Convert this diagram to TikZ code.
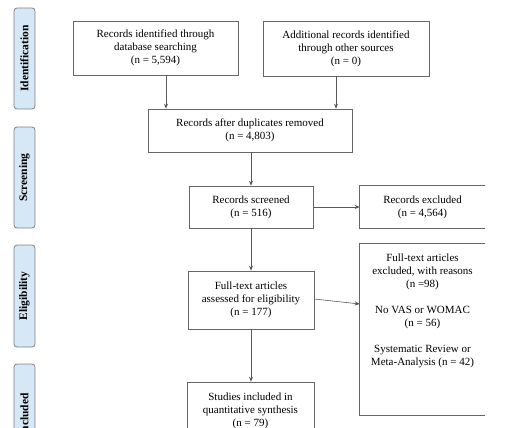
\documentclass[tikz,border=0pt]{standalone}
\usepackage{fontspec}
\setmainfont{Liberation Serif}
\usetikzlibrary{arrows.meta}
\definecolor{tabfill}{RGB}{214,231,245}
\definecolor{tabline}{RGB}{125,130,135}
\begin{document}
\begin{tikzpicture}[x=1pt,y=-1pt,
  tab/.style={draw=tabline, fill=tabfill, rounded corners=3pt, line width=0.8pt,
    minimum width=21pt, inner sep=0pt},
  tabtext/.style={rotate=90, font=\fontsize{11.5}{13}\selectfont\bfseries},
  box/.style={draw=black!60, line width=0.6pt, align=center, inner sep=0pt,
    font=\fontsize{11}{13}\selectfont},
  arr/.style={draw=black!65, line width=0.6pt, -{Stealth[length=5pt,width=4pt]}}]
\useasboundingbox (0,0) rectangle (506,428);
\clip (0,0) rectangle (506,428);
% phase tabs
\node[tab, minimum height=101pt] (idtab) at (24.5,58.5) {};
\node[tabtext] at (idtab) {Identification};
\node[tab, minimum height=101pt] (scrtab) at (24.5,177.5) {};
\node[tabtext] at (scrtab) {Screening};
\node[tab, minimum height=102pt] (elitab) at (24.5,296) {};
\node[tabtext] at (elitab) {Eligibility};
\node[tab, minimum height=102pt] (inctab) at (24.5,415) {};
\node[tabtext] at (inctab) {Included};
% boxes
\node[box, minimum width=165pt, minimum height=54pt] (b1) at (155.5,48)
  {Records identified through\\database searching\\(n = 5,594)};
\node[box, minimum width=166pt, minimum height=55pt] (b2) at (346,48.5)
  {Additional records identified\\through other sources\\(n = 0)};
\node[box, minimum width=204pt, minimum height=43pt] (b3) at (250,130.5)
  {Records after duplicates removed\\(n = 4,803)};
\node[box, minimum width=124pt, minimum height=42pt] (b4) at (251,207)
  {Records screened\\(n = 516)};
\node[box, draw=none, minimum width=125pt, minimum height=42pt] (b5) at (422.5,207)
  {Records excluded\\(n = 4,564)};
\draw[draw=black!60, line width=0.6pt] (b5.north east) -- (b5.north west) -- (b5.south west) -- (b5.south east);
\node[box, minimum width=126pt, minimum height=58pt] (b6) at (251,300)
  {Full-text articles\\assessed for eligibility\\(n = 177)};
\node[box, draw=none, minimum width=125pt, minimum height=171pt] (b7) at (422.5,329.5) {};
\draw[draw=black!60, line width=0.6pt] (b7.north east) -- (b7.north west) -- (b7.south west) -- (b7.south east);
\node[box, draw=none, anchor=north] (b7t) at ([yshift=-10pt]b7.north)
  {Full-text articles\\excluded, with reasons\\(n =98)\\[13pt]No VAS or WOMAC\\(n = 56)\\[13pt]Systematic Review or\\Meta-Analysis (n = 42)};
\node[box, minimum width=127pt, minimum height=58pt] (b8) at (250.5,411)
  {Studies included in\\quantitative synthesis\\(n = 79)};
% arrows
\draw[arr] ([xshift=10.5pt]b1.south) -- ([xshift=10.5pt]b1.south |- b3.north);
\draw[arr] ([xshift=-10pt]b2.south) -- ([xshift=-10pt]b2.south |- b3.north);
\draw[arr] (b4.north |- b3.south) -- (b4.north);
\draw[arr] (b4.east) -- (b5.west);
\draw[arr] (b4.south) -- (b6.north);
\draw[arr] ([yshift=1pt]b6.east) -- ([yshift=25.5pt]b7.west);
\draw[arr] (b6.south) -- (b6.south |- b8.north);
\end{tikzpicture}
\end{document}
